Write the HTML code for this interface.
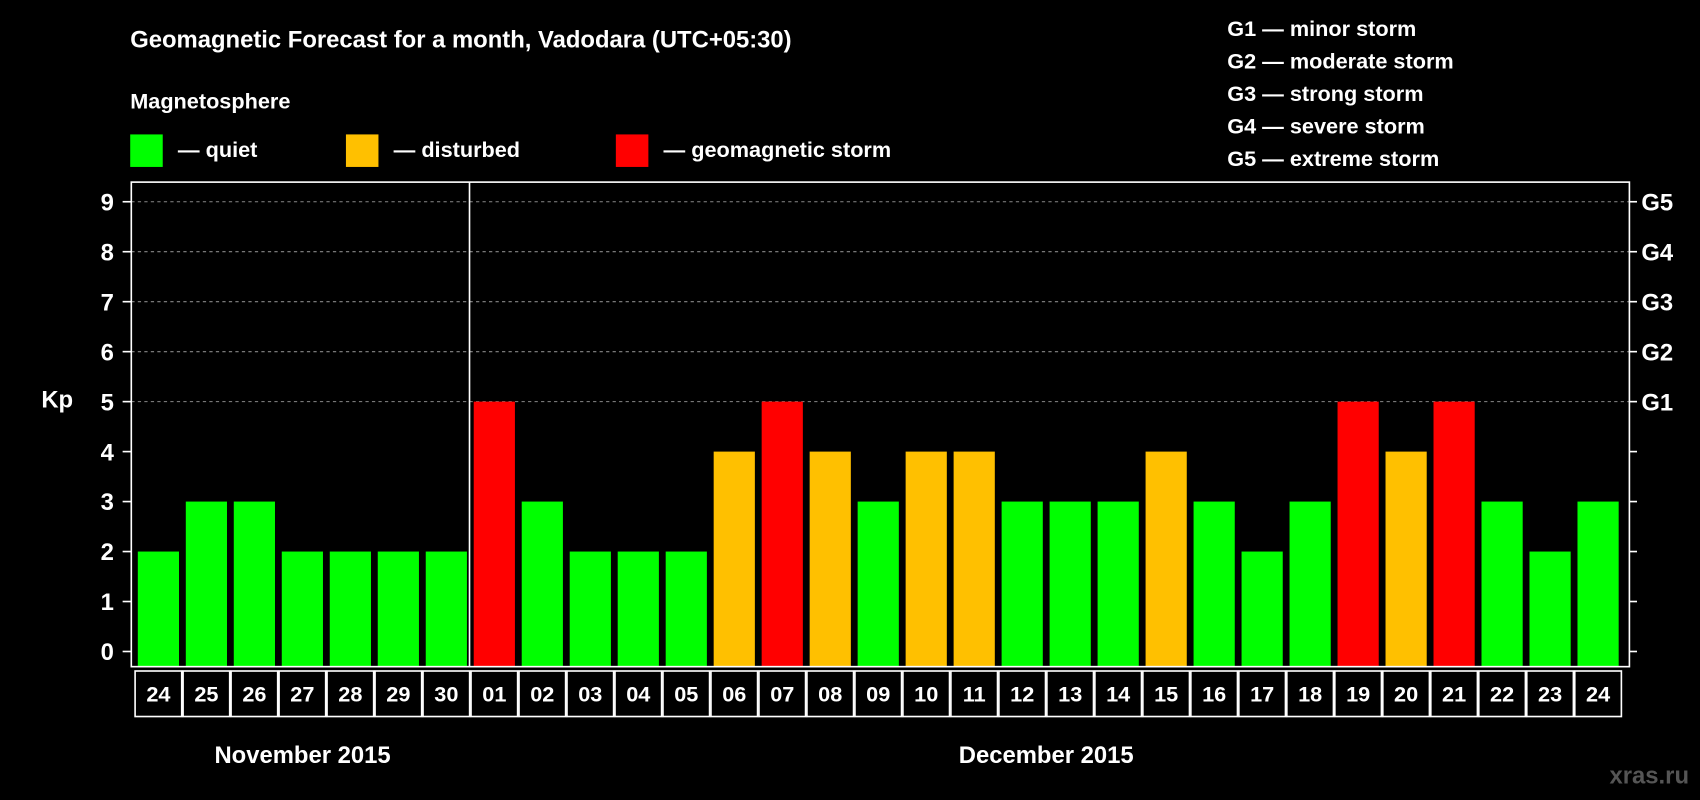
<!DOCTYPE html>
<html><head><meta charset="utf-8"><style>
html,body{margin:0;padding:0;background:#000;}
svg{display:block;font-family:"Liberation Sans",Arial,sans-serif;font-weight:bold;}
</style></head><body>
<svg width="1700" height="800" viewBox="0 0 1568 738">
<rect width="1568" height="738" fill="#000"/>
<text x="120" y="44" fill="#fff" font-size="22">Geomagnetic Forecast for a month, Vadodara (UTC+05:30)</text>
<text x="120" y="100" fill="#fff" font-size="20">Magnetosphere</text>
<g><rect x="120" y="124" width="30" height="30" fill="#00ff00"/><text x="164" y="145" fill="#fff" font-size="20">— quiet</text></g>
<g><rect x="319" y="124" width="30" height="30" fill="#ffc000"/><text x="363" y="145" fill="#fff" font-size="20">— disturbed</text></g>
<g><rect x="568" y="124" width="30" height="30" fill="#ff0000"/><text x="612" y="145" fill="#fff" font-size="20">— geomagnetic storm</text></g>
<g fill="#fff" font-size="20">
<text x="1132" y="33">G1 — minor storm</text>
<text x="1132" y="63">G2 — moderate storm</text>
<text x="1132" y="93">G3 — strong storm</text>
<text x="1132" y="123">G4 — severe storm</text>
<text x="1132" y="153">G5 — extreme storm</text>
</g>
<text x="38" y="376" fill="#fff" font-size="22">Kp</text>
<g id="grid"></g>
<g id="bars"></g>
<rect x="121" y="168" width="1382" height="447" fill="none" stroke="#fff" stroke-width="1.5"/>
<line x1="433" y1="168" x2="433" y2="615" stroke="#fff" stroke-width="1.5"/>
<g id="ticks"></g>
<g id="dates"></g>
<text x="279" y="704" fill="#fff" font-size="22" text-anchor="middle">November 2015</text>
<text x="965" y="704" fill="#fff" font-size="22" text-anchor="middle">December 2015</text>
<text x="1558" y="723" fill="#555" font-size="22" text-anchor="end">xras.ru</text>
</svg>
<script>
const days = ["24","25","26","27","28","29","30","01","02","03","04","05","06","07","08","09","10","11","12","13","14","15","16","17","18","19","20","21","22","23","24"];
const kpValues = [2,3,3,2,2,2,2,5,3,2,2,2,4,5,4,3,4,4,3,3,3,4,3,2,3,5,4,5,3,2,3];
const yTicks = [0,1,2,3,4,5,6,7,8,9];
const gLabels = ["G1","G2","G3","G4","G5"];
const NS="http://www.w3.org/2000/svg";
function y(v){return 601 - v*46.1;}
function xc(i){return 146 + i*44.27;}
function col(v){return v>=5?"#ff0000":(v>=4?"#ffc000":"#00ff00");}
function mk(t,a,p){const e=document.createElementNS(NS,t);for(const k in a)e.setAttribute(k,a[k]);p.appendChild(e);return e;}
const grid=document.getElementById("grid"),bars=document.getElementById("bars"),ticks=document.getElementById("ticks"),dates=document.getElementById("dates");
yTicks.forEach(v=>{
  if(v>=5){const l=mk("line",{x1:121,x2:1503,y1:y(v),y2:y(v),stroke:"#888","stroke-dasharray":"3,3","stroke-width":1},grid);
    
    }
  mk("line",{x1:113,x2:121,y1:y(v),y2:y(v),stroke:"#fff","stroke-width":1.5},ticks);
  mk("line",{x1:1503,x2:1510,y1:y(v),y2:y(v),stroke:"#fff","stroke-width":1.5},ticks);
  const t=mk("text",{x:105,y:y(v)+8,fill:"#fff","font-size":22,"text-anchor":"end"},ticks);
  t.textContent=v;
  
  
});
gLabels.forEach((g,i)=>{
  const t=mk("text",{x:1514,y:y(5+i)+8,fill:"#fff","font-size":22},ticks);
  t.textContent=g;
  
  
});
kpValues.forEach((v,i)=>{
  const b=mk("rect",{x:xc(i)-19,y:y(v),width:38,height:615-y(v),fill:col(v)},bars);
  
  
});
days.forEach((d,i)=>{
  const r=mk("rect",{x:xc(i)-21.5,y:619,width:43,height:42,fill:"none",stroke:"#fff","stroke-width":1.5},dates);
  
  
  const t=mk("text",{x:xc(i),y:647,fill:"#fff","font-size":20,"text-anchor":"middle"},dates);
  t.textContent=d;
  
  
});
</script>
</body></html>
